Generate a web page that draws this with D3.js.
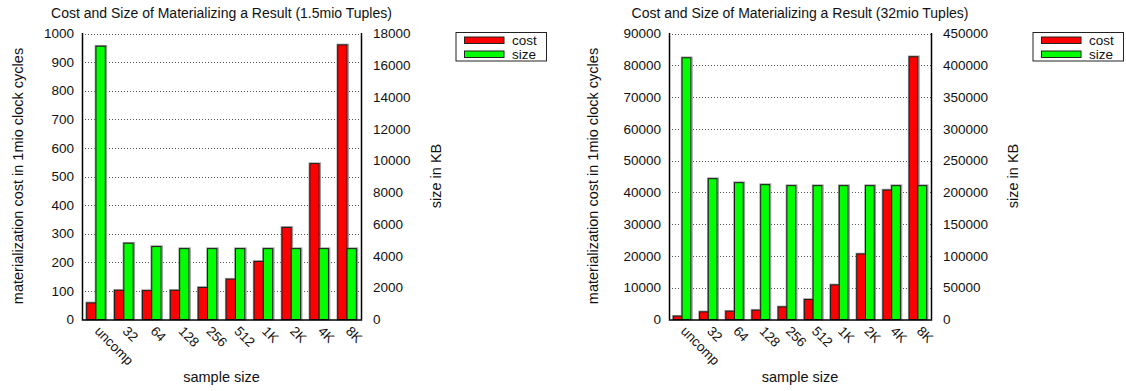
<!DOCTYPE html>
<html>
<head>
<meta charset="utf-8">
<script src="https://cdn.jsdelivr.net/npm/d3@7"></script>
<style>
  html, body { margin: 0; padding: 0; background: #fff; }
  svg text { font-family: "Liberation Sans", Arial, Helvetica, sans-serif; fill: #111; }
</style>
</head>
<body>
<svg id="chart" width="1126" height="391"></svg>
<script>
// Sample sizes along the x axis
const categories = ["uncomp", "32", "64", "128", "256", "512", "1K", "2K", "4K", "8K"];

// 1.5 million tuples: cost in 1mio clock cycles, size in KB
const costSmall = [58, 102, 101, 102, 112, 141, 203, 322, 545, 960];
const sizeSmall = [17200, 4800, 4590, 4460, 4460, 4460, 4460, 4460, 4460, 4460];

// 32 million tuples: cost in 1mio clock cycles, size in KB
const costLarge = [1040, 2400, 2600, 2920, 3960, 6290, 10880, 20620, 40740, 82680];
const sizeLarge = [411800, 221600, 215300, 212200, 210600, 210600, 210600, 210600, 210600, 210600];

// Axis tick values
const costTicksSmall = d3.range(0, 1001, 100);
const sizeTicksSmall = d3.range(0, 18001, 2000);
const costTicksLarge = d3.range(0, 90001, 10000);
const sizeTicksLarge = d3.range(0, 450001, 50000);

const seriesNames = ["cost", "size"];
const seriesColors = ["#ff0000", "#00ff00"];

const svg = d3.select("#chart");
const TICK_FONT = 13.5;
const TITLE_FONT = 14;
const LABEL_FONT = 14.5;

function drawPanel(opt) {
  const g = svg.append("g");
  const top = 33.5, bottom = 319.5;

  const x = d3.scaleBand().domain(categories).range([opt.left, opt.right]).padding(0);
  const yCost = d3.scaleLinear().domain([0, opt.costMax]).range([bottom, top]);
  const ySize = d3.scaleLinear().domain([0, opt.sizeMax]).range([bottom, top]);
  const bw = x.bandwidth() / 3;

  // horizontal dotted grid
  g.append("g").selectAll("line").data(opt.costTicks.slice(1)).join("line")
    .attr("x1", opt.left).attr("x2", opt.right)
    .attr("y1", d => Math.round(yCost(d)) + 0.5).attr("y2", d => Math.round(yCost(d)) + 0.5)
    .attr("stroke", "#555").attr("stroke-width", 1).attr("stroke-dasharray", "1,2");

  // title
  g.append("text").attr("x", (opt.left + opt.right) / 2).attr("y", 17.5)
    .attr("text-anchor", "middle").attr("font-size", TITLE_FONT).text(opt.title);

  // bars with a soft grey edge
  const bars = [];
  categories.forEach((c, i) => {
    const cx = x(c) + x.bandwidth() / 2;
    bars.push({ x0: cx - bw, v: opt.cost[i], y: yCost, s: 0 });
    bars.push({ x0: cx, v: opt.size[i], y: ySize, s: 1 });
  });
  const bg = g.append("g");
  bg.selectAll("rect.shadow").data(bars).join("rect").attr("class", "shadow")
    .attr("x", d => d.x0 - 0.5).attr("y", d => d.y(d.v) - 0.5)
    .attr("width", bw + 1.6).attr("height", d => bottom - d.y(d.v) + 0.5)
    .attr("fill", "none").attr("stroke", "#999").attr("stroke-width", 1.5);
  bg.selectAll("rect.bar").data(bars).join("rect").attr("class", "bar")
    .attr("x", d => d.x0).attr("y", d => d.y(d.v))
    .attr("width", bw).attr("height", d => bottom - d.y(d.v))
    .attr("fill", d => seriesColors[d.s]).attr("stroke", "#1a1a1a").attr("stroke-width", 1);

  // border: left, bottom, right
  g.append("path")
    .attr("d", `M${opt.left + 0.5},${top - 0.5}V${bottom + 0.5}H${opt.right + 0.5}V${top - 0.5}`)
    .attr("fill", "none").attr("stroke", "#000").attr("stroke-width", 1.5);

  // left axis labels
  g.append("g").selectAll("text").data(opt.costTicks).join("text")
    .attr("x", opt.left - 8).attr("y", d => yCost(d)).attr("dy", "0.35em")
    .attr("text-anchor", "end").attr("font-size", TICK_FONT).text(d => d);

  // right axis labels
  g.append("g").selectAll("text").data(opt.sizeTicks).join("text")
    .attr("x", opt.right + 12).attr("y", d => ySize(d)).attr("dy", "0.35em")
    .attr("text-anchor", "start").attr("font-size", TICK_FONT).text(d => d);

  // x category labels, rotated
  g.append("g").selectAll("text").data(categories).join("text")
    .attr("transform", d => `translate(${x(d) + x.bandwidth() / 2 - 2},${bottom + 12.5}) rotate(45)`)
    .attr("text-anchor", "start").attr("font-size", TICK_FONT).text(d => d);

  // axis titles
  g.append("text").attr("x", (opt.left + opt.right) / 2).attr("y", 382)
    .attr("text-anchor", "middle").attr("font-size", LABEL_FONT).text("sample size");
  g.append("text").attr("transform", `translate(${opt.yLabelX},176) rotate(-90)`)
    .attr("text-anchor", "middle").attr("dy", "0.35em").attr("font-size", LABEL_FONT)
    .text("materialization cost in 1mio clock cycles");
  g.append("text").attr("transform", `translate(${opt.y2LabelX},176) rotate(-90)`)
    .attr("text-anchor", "middle").attr("dy", "0.35em").attr("font-size", LABEL_FONT)
    .text("size in KB");

  // legend
  const lg = g.append("g").attr("transform", `translate(${opt.legendX},32.5)`);
  lg.append("rect").attr("x", 0).attr("y", 0).attr("width", opt.legendW).attr("height", 28.5)
    .attr("fill", "#fff").attr("stroke", "#222").attr("stroke-width", 1);
  seriesNames.forEach((n, i) => {
    lg.append("rect").attr("x", 8.5).attr("y", 4.5 + i * 14).attr("width", 39.5).attr("height", 6.5)
      .attr("fill", seriesColors[i]).attr("stroke", "#222").attr("stroke-width", 1);
    lg.append("text").attr("x", 56).attr("y", 8 + i * 14).attr("dy", "0.35em")
      .attr("font-size", TICK_FONT).text(n);
  });
}

drawPanel({
  left: 82, right: 361, costMax: 1000, sizeMax: 18000,
  cost: costSmall, size: sizeSmall, costTicks: costTicksSmall, sizeTicks: sizeTicksSmall,
  title: "Cost and Size of Materializing a Result (1.5mio Tuples)",
  yLabelX: 18, y2LabelX: 436, legendX: 456, legendW: 90.5
});

drawPanel({
  left: 669, right: 931, costMax: 90000, sizeMax: 450000,
  cost: costLarge, size: sizeLarge, costTicks: costTicksLarge, sizeTicks: sizeTicksLarge,
  title: "Cost and Size of Materializing a Result (32mio Tuples)",
  yLabelX: 593, y2LabelX: 1013, legendX: 1033, legendW: 90.5
});
</script>
</body>
</html>
